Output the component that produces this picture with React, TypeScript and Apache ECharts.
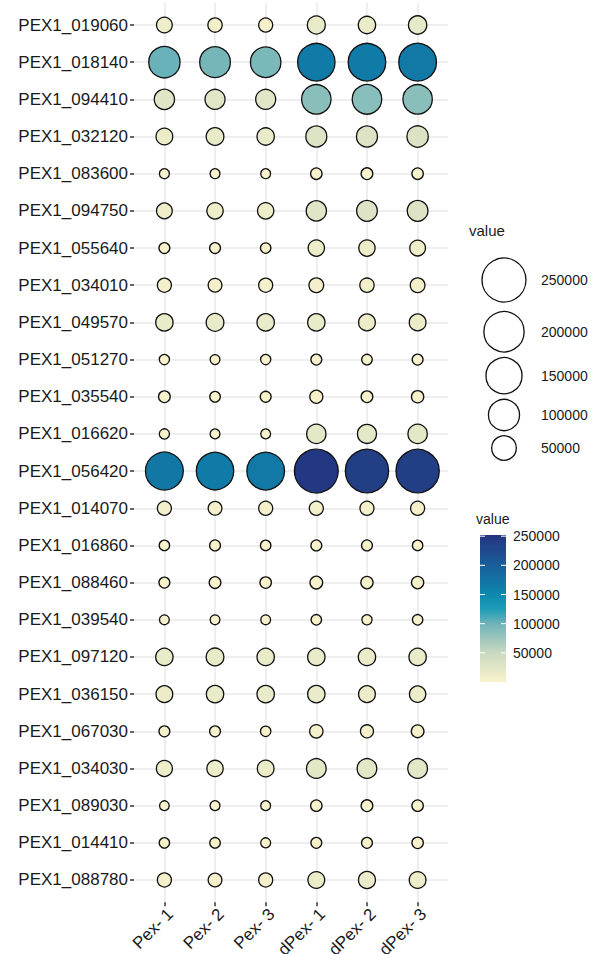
import React, { useEffect, useRef } from "react";
import * as echarts from "echarts";

const genes = [
  "PEX1_019060", "PEX1_018140", "PEX1_094410", "PEX1_032120", "PEX1_083600", "PEX1_094750",
  "PEX1_055640", "PEX1_034010", "PEX1_049570", "PEX1_051270", "PEX1_035540", "PEX1_016620",
  "PEX1_056420", "PEX1_014070", "PEX1_016860", "PEX1_088460", "PEX1_039540", "PEX1_097120",
  "PEX1_036150", "PEX1_067030", "PEX1_034030", "PEX1_089030", "PEX1_014410", "PEX1_088780",
];

const samples = ["Pex- 1", "Pex- 2", "Pex- 3", "dPex- 1", "dPex- 2", "dPex- 3"];

const pex1 = [9200, 101500, 26000, 12100, 200, 9200, 700, 5100, 14100, 300, 1500, 300, 170000, 5100, 400, 700, 150, 14100, 12100, 700, 10000, 100, 400, 5100];
const pex2 = [5700, 96000, 24700, 15400, 150, 10900, 700, 4500, 15400, 150, 500, 150, 165000, 4500, 700, 1500, 150, 15400, 14100, 700, 10900, 150, 500, 4500];
const pex3 = [5100, 94000, 24700, 14100, 150, 10900, 400, 5100, 14100, 300, 700, 150, 168000, 5100, 400, 1200, 150, 14100, 14100, 400, 12100, 150, 200, 5100];
const dpex1 = [16500, 165000, 85000, 29400, 1200, 26000, 10900, 6600, 14100, 700, 3300, 21700, 247000, 5100, 700, 2800, 400, 14100, 14100, 3800, 23400, 1200, 700, 12100];
const dpex2 = [14100, 166000, 86000, 29400, 1500, 27900, 10900, 5700, 12100, 500, 1500, 20400, 240000, 5100, 700, 2200, 300, 14100, 12100, 3300, 23400, 1500, 700, 13100];
const dpex3 = [17700, 168000, 85000, 30900, 1200, 27900, 9200, 6600, 12100, 700, 2200, 21700, 240000, 5100, 400, 2200, 400, 14100, 10900, 2800, 23400, 1200, 1200, 12100];

const columns = [pex1, pex2, pex3, dpex1, dpex2, dpex3];

const sizeLegendValues = [250000, 200000, 150000, 100000, 50000];
const colorTicks = [250000, 200000, 150000, 100000, 50000];
// colours at 0, 25000, 50000, ... 250000
const colorStops = [
  "#f8f2cc", "#e0e6c6", "#c9d9c0", "#9cc6bc", "#6fb3b9", "#1d9cb6",
  "#0d88ae", "#1473a4", "#1a5e9b", "#1f4a8d", "#243680",
];
const colorMin = 0;
const colorMax = 250000;
const colorBarMax = 252000;

const FONT = "'Liberation Sans', Arial, Helvetica, sans-serif";

function sizeOf(v: number): number {
  return 9 + 0.07 * Math.sqrt(Math.max(v, 0));
}

export default function App() {
  const ref = useRef<HTMLDivElement>(null);

  useEffect(() => {
    if (!ref.current) return;
    const chart = echarts.init(ref.current, undefined, { renderer: "svg" });

    const data: number[][] = [];
    columns.forEach((col, xi) => {
      col.forEach((v, yi) => data.push([xi, yi, v]));
    });

    const xIdx = samples.map((_, i) => i);
    const yIdx = genes.map((_, i) => i);

    const graphic: any[] = [];
    // size legend
    graphic.push({
      type: "text", left: 469, top: 223,
      style: { text: "value", fontSize: 15, fontFamily: FONT, fill: "#1a1a1a" },
    });
    const sizeCenters = [280, 331.7, 375.7, 415, 448];
    sizeLegendValues.forEach((v, i) => {
      const r = sizeOf(v) / 2;
      graphic.push({
        type: "circle",
        shape: { cx: 504, cy: sizeCenters[i], r },
        style: { fill: "#ffffff", stroke: "#111", lineWidth: 1.3 },
      });
      graphic.push({
        type: "text", x: 541, y: sizeCenters[i],
        style: { text: String(v), fontSize: 14, fontFamily: FONT, fill: "#1a1a1a", verticalAlign: "middle", align: "left" },
      });
    });

    // colour bar
    const barX = 480, barW = 26, barTop = 535, barBottom = 682;
    const grad = colorStops.map((c, i) => ({
      offset: (colorMin + (i * (colorMax - colorMin)) / (colorStops.length - 1)) / colorBarMax,
      color: c,
    }));
    grad.push({ offset: 1, color: colorStops[colorStops.length - 1] });
    graphic.push({
      type: "text", left: 476, top: 512,
      style: { text: "value", fontSize: 14, fontFamily: FONT, fill: "#1a1a1a" },
    });
    graphic.push({
      type: "rect",
      shape: { x: barX, y: barTop, width: barW, height: barBottom - barTop },
      style: { fill: new echarts.graphic.LinearGradient(0, 1, 0, 0, grad) },
    });
    colorTicks.forEach((v) => {
      const y = barBottom - ((v - colorMin) / (colorBarMax - colorMin)) * (barBottom - barTop);
      graphic.push({ type: "line", shape: { x1: barX, y1: y, x2: barX + 5, y2: y }, style: { stroke: "#fff", lineWidth: 1 } });
      graphic.push({ type: "line", shape: { x1: barX + barW - 5, y1: y, x2: barX + barW, y2: y }, style: { stroke: "#fff", lineWidth: 1 } });
      graphic.push({
        type: "text", x: 513, y,
        style: { text: String(v), fontSize: 14, fontFamily: FONT, fill: "#1a1a1a", verticalAlign: "middle", align: "left" },
      });
    });

    chart.setOption({
      animation: false,
      backgroundColor: "#ffffff",
      grid: {
        left: 134, right: 151, top: 2.7, bottom: 51.7,
        containLabel: false, outerBoundsMode: "none",
      },
      xAxis: {
        type: "value",
        min: -0.6,
        max: 5.6,
        axisLine: { show: true, onZero: false, lineStyle: { color: "#333", opacity: 0 } },
        axisTick: { show: true, length: 4, customValues: xIdx, lineStyle: { color: "#333", width: 1.5, opacity: 1 } },
        axisLabel: {
          customValues: xIdx,
          formatter: (v: number) => samples[Math.round(v)] ?? "",
          rotate: 45,
          margin: 3,
          fontSize: 17,
          fontFamily: FONT,
          color: "#1a1a1a",
          verticalAlign: "top",
        },
        splitLine: { show: true, lineStyle: { color: "#e8e8e8", width: 1.5 } },
      },
      yAxis: {
        type: "value",
        min: -0.6,
        max: 23.6,
        inverse: true,
        axisLine: { show: true, onZero: false, lineStyle: { color: "#333", opacity: 0 } },
        axisTick: { show: true, length: 4, customValues: yIdx, lineStyle: { color: "#333", width: 1.5, opacity: 1 } },
        axisLabel: {
          customValues: yIdx,
          formatter: (v: number) => genes[Math.round(v)] ?? "",
          margin: 6,
          fontSize: 17,
          fontFamily: FONT,
          color: "#1a1a1a",
        },
        splitLine: { show: true, lineStyle: { color: "#e8e8e8", width: 1.5 } },
      },
      visualMap: {
        show: false,
        type: "continuous",
        min: colorMin,
        max: colorMax,
        dimension: 2,
        seriesIndex: 0,
        inRange: { color: colorStops },
      },
      series: [
        {
          type: "scatter",
          data,
          symbolSize: (d: number[]) => sizeOf(d[2]),
          itemStyle: { borderColor: "#111", borderWidth: 1.3, opacity: 1 },
        },
      ],
      graphic,
    });

    return () => chart.dispose();
  }, []);

  return (
    <div
      ref={ref}
      style={{ position: "fixed", left: 0, top: 0, width: 599, height: 954, background: "#fff" }}
    />
  );
}
